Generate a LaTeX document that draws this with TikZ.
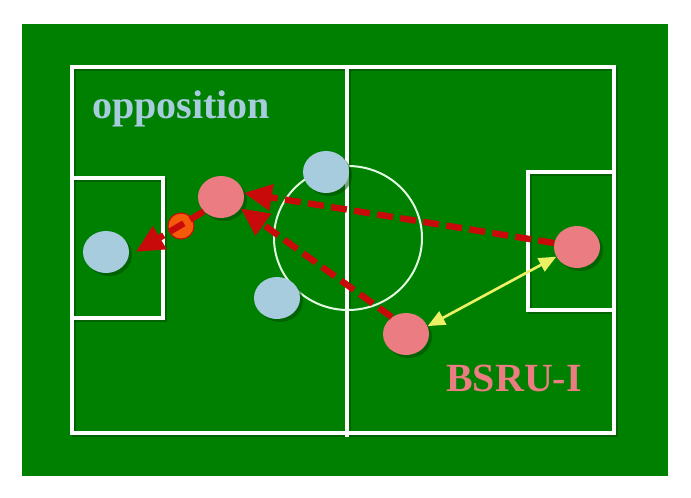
\documentclass[tikz,border=0pt]{standalone}
\usepackage{fontspec}
\setmainfont{Liberation Serif}
\usetikzlibrary{shapes.geometric,arrows.meta}
\definecolor{pitch}{RGB}{0,128,0}
\definecolor{pitchshade}{RGB}{0,70,0}
\definecolor{oppblue}{RGB}{166,204,222}
\definecolor{ownred}{RGB}{234,124,130}
\definecolor{passred}{RGB}{200,10,10}
\definecolor{ballorange}{RGB}{245,90,10}
\definecolor{passyellow}{RGB}{235,240,100}
\definecolor{circlewhite}{RGB}{225,250,225}
\tikzset{
  fieldline/.style={draw=white,line width=3pt,line cap=rect},
  fieldshade/.style={draw=pitchshade,line width=3pt,opacity=0.5},
  player/.style={ellipse,minimum width=34.5pt,minimum height=31.5pt,inner sep=0pt},
  oppplayer/.style={player,fill=oppblue},
  ownplayer/.style={player,fill=ownred},
  shade/.style={ellipse,minimum width=34.5pt,minimum height=31.5pt,inner sep=0pt,fill=pitchshade,opacity=0.5},
  passarrow/.style={draw=passred,line width=4.8pt,dash pattern=on 12pt off 5.5pt,
    -{Triangle[length=21pt,width=19pt,fill=passred]}},
  supportarrow/.style={draw=passyellow,line width=2pt,
    {Triangle[length=13pt,width=11pt,fill=passyellow]}-{Triangle[length=13pt,width=11pt,fill=passyellow]}},
}
\begin{document}
\begin{tikzpicture}[x=0.75pt,y=-0.75pt]
\useasboundingbox (0,0) rectangle (691,497);
\fill[white] (0,0) rectangle (691,497);
\fill[pitch] (22,24) rectangle (668,476);
% field line shadows
\draw[fieldshade] (74,69) rectangle (616,435);
\draw[fieldshade] (349,69) -- (349,437);
\draw[fieldshade] (74,180) -| (165,320) -- (74,320);
\draw[fieldshade] (616,174) -| (530,312) -- (616,312);
% field lines
\draw[fieldline] (72,67) rectangle (614,433);
\draw[fieldline] (347,67) -- (347,435);
\draw[fieldline] (72,178) -| (163,318) -- (72,318);
\draw[fieldline] (614,172) -| (528,310) -- (614,310);
\draw[draw=circlewhite,line width=1.5pt] (348,238) ellipse [x radius=74, y radius=72];
% texts
\node[anchor=base west,inner sep=0pt,text=oppblue,font=\fontsize{30}{36}\selectfont\bfseries] (opp) at (92,118) {opposition};
\node[anchor=base west,inner sep=0pt,text=ownred,font=\fontsize{30}{36}\selectfont\bfseries] (own) at (446,391) {BSRU-I};
% shadows of players
\foreach \p in {(109,255),(224,200),(329,175),(280,301),(580,250),(409,337)}
  \node[shade] at \p {};
% players
\node[oppplayer] (gk) at (106,252) {};
\node[ownplayer] (r1) at (221,197) {};
\node[oppplayer] (b2) at (326,172) {};
\node[oppplayer] (b3) at (277,298) {};
\node[ownplayer] (r2) at (577,247) {};
\node[ownplayer] (r3) at (406,334) {};
\node[circle,minimum size=19.5pt,inner sep=0pt,fill=ballorange,draw=passred,line width=0.8pt] (ball) at (181,226) {};
% passes
\draw[passarrow] (r2.170) -- (r1.10);
\draw[passarrow] (r3.130) -- (r1.-30);
\draw[passarrow,shorten >=6pt] (r1.220) -- (gk.-10);
\draw[supportarrow] (r3.20) -- (r2.205);
\end{tikzpicture}
\end{document}
